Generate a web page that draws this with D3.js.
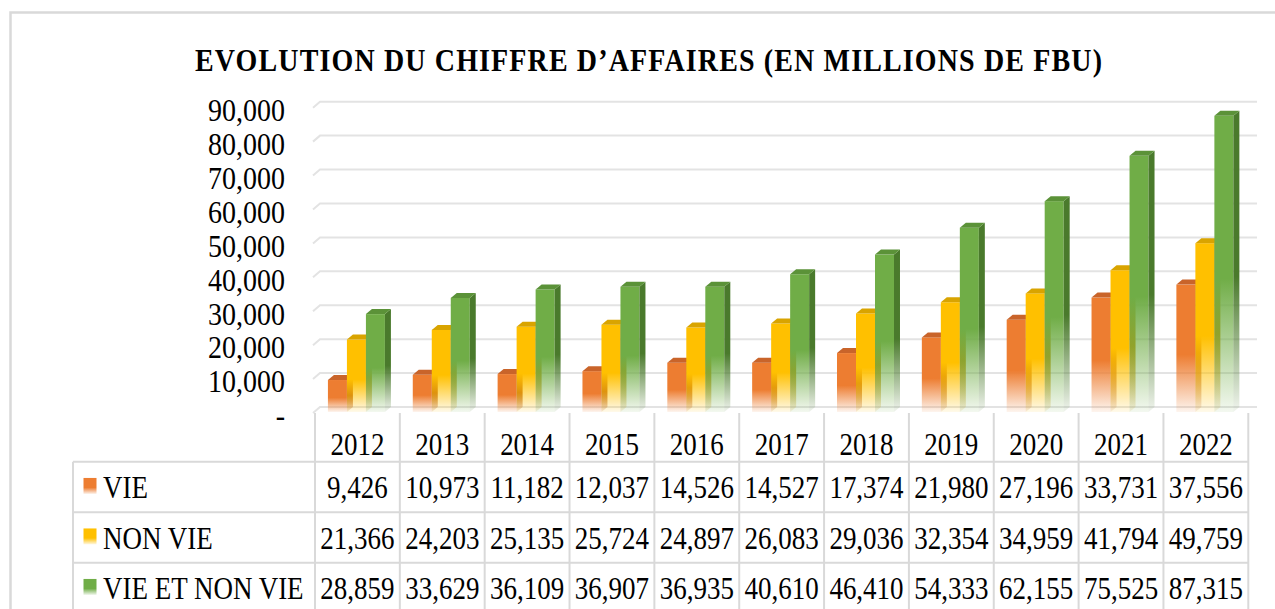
<!DOCTYPE html>
<html>
<head>
<meta charset="utf-8">
<script src="https://cdn.jsdelivr.net/npm/d3@7"></script>
<style>
  html, body { margin: 0; padding: 0; background: #fff; }
  svg { display: block; }
</style>
</head>
<body>
<script>
const years = ['2012','2013','2014','2015','2016','2017','2018','2019','2020','2021','2022'];
const seriesNames = ['VIE', 'NON VIE', 'VIE ET NON VIE'];
const vie =    [9426, 10973, 11182, 12037, 14526, 14527, 17374, 21980, 27196, 33731, 37556];
const nonVie = [21366, 24203, 25135, 25724, 24897, 26083, 29036, 32354, 34959, 41794, 49759];
const total =  [28859, 33629, 36109, 36907, 36935, 40610, 46410, 54333, 62155, 75525, 87315];
const yTicks = [0, 10000, 20000, 30000, 40000, 50000, 60000, 70000, 80000, 90000];
const title = 'EVOLUTION DU CHIFFRE D\u2019AFFAIRES (EN MILLIONS DE FBU)';

const seriesValues = [vie, nonVie, total];
const colors = {
  front: ['#ED7D31', '#FFC000', '#70AD47'],
  side:  ['#B55A1E', '#C49200', '#4A7A2C'],
  top:   ['#C9642A', '#D9A400', '#5B9238']
};
const FONT = "'Liberation Serif', 'Times New Roman', Times, 'DejaVu Serif'";

const W = 1275, H = 609;
const svg = d3.select('body').append('svg').attr('width', W).attr('height', H);
svg.append('rect').attr('width', W).attr('height', H).attr('fill', '#fff');

// outer frame
svg.append('rect').attr('x', 10.5).attr('y', 12.5).attr('width', 1300).attr('height', 700)
  .attr('fill', 'none').attr('stroke', '#d9d9d9').attr('stroke-width', 2.5);

const SY = 1.15; // vertical stretch of the glyphs
function txt(g, x, y, s, size, anchor, weight) {
  return g.append('text')
    .attr('transform', `translate(${x},${y}) scale(1,${SY})`)
    .attr('text-anchor', anchor || 'middle')
    .attr('dy', '0.35em')
    .attr('font-family', FONT)
    .attr('fill', '#000')
    .style('font-family', FONT)
    .style('font-size', size + 'px')
    .style('font-weight', weight || 'normal')
    .text(s);
}

// title
svg.append('text')
  .attr('transform', `translate(195,70.5) scale(1,${SY})`)
  .attr('x', 0)
  .attr('textLength', 907)
  .attr('lengthAdjust', 'spacing')
  .attr('font-family', FONT)
  .style('font-family', FONT)
  .style('font-size', '28px').style('font-weight', 'bold')
  .text(title);

// scales
const x = d3.scaleBand().domain(years).range([315, 1248.3]).padding(0);
const y = d3.scaleLinear().domain([0, 90000]).range([407, 101.7]);
const groupW = 57;
const xs = d3.scaleBand().domain(seriesNames).range([0, groupW]).padding(0);
const DX = 6, DY = 5;

// gradients
const defs = svg.append('defs');
['front', 'side'].forEach(kind => {
  seriesNames.forEach((s, i) => {
    const c = colors[kind][i];
    const g = defs.append('linearGradient').attr('id', `g-${kind}-${i}`)
      .attr('x1', 0).attr('y1', 0).attr('x2', 0).attr('y2', 1);
    g.append('stop').attr('offset', '0%').attr('stop-color', c).attr('stop-opacity', 1);
    g.append('stop').attr('offset', '55%').attr('stop-color', c).attr('stop-opacity', 1);
    g.append('stop').attr('offset', '100%').attr('stop-color', c).attr('stop-opacity', 0.08);
  });
});
seriesNames.forEach((s, i) => {
  const g = defs.append('linearGradient').attr('id', `g-key-${i}`)
    .attr('x1', 0).attr('y1', 0).attr('x2', 0).attr('y2', 1);
  g.append('stop').attr('offset', '0%').attr('stop-color', colors.front[i]).attr('stop-opacity', 1);
  g.append('stop').attr('offset', '60%').attr('stop-color', colors.front[i]).attr('stop-opacity', 1);
  g.append('stop').attr('offset', '100%').attr('stop-color', colors.front[i]).attr('stop-opacity', 0.1);
});

// gridlines (back wall) with short perspective floor segment
const grid = svg.append('g');
yTicks.forEach(t => {
  const yy = y(t);
  grid.append('path')
    .attr('d', `M313,${yy + 6} L320,${yy} L1257,${yy}`)
    .attr('fill', 'none').attr('stroke', '#e3e3e3').attr('stroke-width', 2);
});

// y-axis labels
const fmt = d3.format(',');
const yAxis = svg.append('g');
yTicks.forEach(t => {
  txt(yAxis, 285, y(t) + 8, t === 0 ? '-' : fmt(t), 28, 'end');
});

// bars
const bars = svg.append('g');
years.forEach((yr, j) => {
  const cx = x(yr) + x.bandwidth() / 2 - 29.5;
  seriesNames.forEach((s, i) => {
    const v = seriesValues[i][j];
    const x0 = cx + xs(s);
    const w = xs.bandwidth();
    const yt = y(v) + DY;
    const yb = y(0) + DY;
    bars.append('rect').attr('x', x0).attr('y', yt).attr('width', w).attr('height', yb - yt)
      .attr('fill', `url(#g-front-${i})`);
    bars.append('path')
      .attr('d', `M${x0 + w},${yt} L${x0 + w + DX},${yt - DY} L${x0 + w + DX},${yb - DY} L${x0 + w},${yb} Z`)
      .attr('fill', `url(#g-side-${i})`);
    bars.append('path')
      .attr('d', `M${x0},${yt} L${x0 + DX},${yt - DY} L${x0 + w + DX},${yt - DY} L${x0 + w},${yt} Z`)
      .attr('fill', colors.top[i]);
  });
});

// data table
const table = svg.append('g');
const lineColor = '#d9d9d9';
const rowTop = 461.7, rowH = 50.5;
const tableLeft = 73, tableRight = x.range()[1];
[0, 1, 2, 3].forEach(r => {
  table.append('line').attr('x1', tableLeft).attr('x2', tableRight)
    .attr('y1', rowTop + r * rowH).attr('y2', rowTop + r * rowH)
    .attr('stroke', lineColor).attr('stroke-width', 2);
});
years.forEach(yr => {
  table.append('line').attr('x1', x(yr)).attr('x2', x(yr)).attr('y1', 413).attr('y2', 620)
    .attr('stroke', lineColor).attr('stroke-width', 2);
});
table.append('line').attr('x1', tableRight).attr('x2', tableRight).attr('y1', 413).attr('y2', 620)
  .attr('stroke', lineColor).attr('stroke-width', 2);
table.append('line').attr('x1', tableLeft).attr('x2', tableLeft).attr('y1', rowTop).attr('y2', 620)
  .attr('stroke', lineColor).attr('stroke-width', 2);

years.forEach(yr => {
  txt(table, x(yr) + x.bandwidth() / 2, 444.5, yr, 27, 'middle');
});
seriesNames.forEach((s, i) => {
  const cy = rowTop + i * rowH + rowH / 2;
  table.append('rect').attr('x', 83.5).attr('y', cy - 9).attr('width', 13).attr('height', 16)
    .attr('fill', `url(#g-key-${i})`);
  txt(table, 103, cy + 0.5, s, 27, 'start');
  years.forEach((yr, j) => {
    txt(table, x(yr) + x.bandwidth() / 2, cy + 0.5, fmt(seriesValues[i][j]), 27, 'middle');
  });
});
</script>
</body>
</html>
